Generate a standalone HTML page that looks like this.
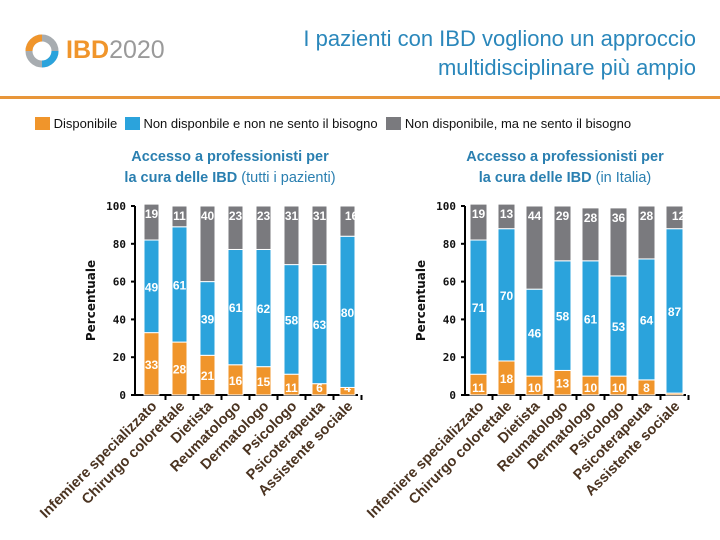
<!DOCTYPE html>
<html><head><meta charset="utf-8"><style>
body{margin:0;width:720px;height:540px;background:#fff;font-family:"Liberation Sans",sans-serif;overflow:hidden;position:relative}
.t{position:absolute}
</style></head><body>
<div class="t" style="left:24px;top:34px;width:40px;height:34px">
<svg width="40" height="34"><circle cx="18" cy="17" r="13" fill="none" stroke="#a7acb0" stroke-width="7"/><path d="M18 4 A13 13 0 0 0 5 17" fill="none" stroke="#f0952b" stroke-width="7"/><path d="M31 17 A13 13 0 0 1 18 30" fill="none" stroke="#2ba3dc" stroke-width="7"/></svg></div>
<div class="t" style="left:66px;top:36px;font-size:25px"><b style="color:#f0952b">IBD</b><span style="color:#9a9a9a">2020</span></div>
<div class="t" style="right:24px;top:24px;text-align:right;font-size:22px;line-height:29px;color:#2a87bb">I pazienti con IBD vogliono un approccio<br>multidisciplinare più ampio</div>
<div class="t" style="left:0;top:96px;width:720px;height:3px;background:#e8963a"></div>
<div class="t" style="left:35px;top:116px;font-size:13px;color:#111;white-space:nowrap">
<span><span style="display:inline-block;width:15px;height:13px;background:#f0952b;vertical-align:-2px"></span> Disponibile</span>
<span style="margin-left:4px"><span style="display:inline-block;width:15px;height:13px;background:#2ba3dc;vertical-align:-2px"></span> Non disponbile e non ne sento il bisogno</span>
<span style="margin-left:5px"><span style="display:inline-block;width:15px;height:13px;background:#7a7a7e;vertical-align:-2px"></span> Non disponibile, ma ne sento il bisogno</span></div>
<div class="t" style="left:80px;width:300px;top:147px;text-align:center;font-size:14.5px;line-height:21px;color:#2a7fb0;font-weight:bold">Accesso a professionisti per<br>la cura delle IBD <span style="font-weight:normal">(tutti i pazienti)</span></div>
<div class="t" style="left:415px;width:300px;top:147px;text-align:center;font-size:14.5px;line-height:21px;color:#2a7fb0;font-weight:bold">Accesso a professionisti per<br>la cura delle IBD <span style="font-weight:normal">(in Italia)</span></div>
<svg id="ch" class="t" style="left:0;top:0" width="720" height="540"></svg>
<script>
const categories=["Infemiere specializzato","Chirurgo colorettale","Dietista","Reumatologo","Dermatologo","Psicologo","Psicoterapeuta","Assistente sociale"];
const leftAvail=[33,28,21,16,15,11,6,4];
const leftNoNeed=[49,61,39,61,62,58,63,80];
const leftNeed=[19,11,40,23,23,31,31,16];
const rightAvail=[11,18,10,13,10,10,8,1];
const rightNoNeed=[71,70,46,58,61,53,64,87];
const rightNeed=[19,13,44,29,28,36,28,12];
const yTicks=[0,20,40,60,80,100];
const NS="http://www.w3.org/2000/svg";
const svg=document.getElementById('ch');
function mk(t,a,txt){const e=document.createElementNS(NS,t);for(const k in a)e.setAttribute(k,a[k]);if(txt!==undefined)e.textContent=txt;svg.appendChild(e);return e;}
const y0=395,y1=206;
function Y(v){return y0-(y0-y1)*v/100;}
function chart(side,axX,firstX,bw,pitch,A,B,C){
  const ax=mk('line',{x1:axX,y1:y1,x2:axX,y2:y0,stroke:'#000','stroke-width':2});
  
  const xa=mk('line',{x1:axX,y1:y0,x2:firstX+pitch*7+bw+3,y2:y0,stroke:'#000','stroke-width':2});
  
  yTicks.forEach(v=>{
    const tk=mk('line',{x1:axX-4,y1:Y(v),x2:axX,y2:Y(v),stroke:'#000','stroke-width':2});
    
    const l=mk('text',{x:axX-9,y:Y(v)+4,'text-anchor':'end','font-size':11,'font-weight':'bold','font-family':'DejaVu Sans Mono, monospace',fill:'#111'},v);
    
  });
  const yt=mk('text',{x:0,y:0,transform:`translate(${axX-40},${(y0+y1)/2}) rotate(-90)`,'text-anchor':'middle','font-size':12,'font-weight':'bold','font-family':'DejaVu Sans, sans-serif',fill:'#111'},'Percentuale');
  
  categories.forEach((c,i)=>{
    const x=firstX+i*pitch;
    const segs=[[A[i],'#f0952b','available'],[B[i],'#2ba3dc','no-need'],[C[i],'#7a7a7e','need']];
    let acc=0;
    segs.forEach(([v,col,nm],j)=>{
      const r=mk('rect',{x:x,y:Y(acc+v),width:bw,height:Y(acc)-Y(acc+v),fill:col,stroke:'#fff','stroke-width':1});
      
      const ly=j==0&&v<12?Y(acc)-3:(j==2?Y(acc+v)+14:Y(acc+v/2)+5);
      const t=mk('text',{x:x+bw/2+ (j==2&&i==7?4:0),y:ly,'text-anchor':'middle','font-size':12,'font-weight':'bold',fill:'#fff'},v);
      
      acc+=v;
    });
    const tk=mk('line',{x1:x+bw+(pitch-bw)/2,y1:y0,x2:x+bw+(pitch-bw)/2,y2:y0+5,stroke:'#000','stroke-width':2});
    
    const cx=x+bw/2+6,cy=y0+12;
    const l=mk('text',{x:0,y:0,transform:`translate(${cx},${cy}) rotate(-45)`,'text-anchor':'end','font-size':14.5,'font-weight':'bold',fill:'#4a3320'},c);
    
  });
}
chart('left',135,144,15,28,leftAvail,leftNoNeed,leftNeed);
chart('right',465,470,17,28,rightAvail,rightNoNeed,rightNeed);
</script>
</body></html>
